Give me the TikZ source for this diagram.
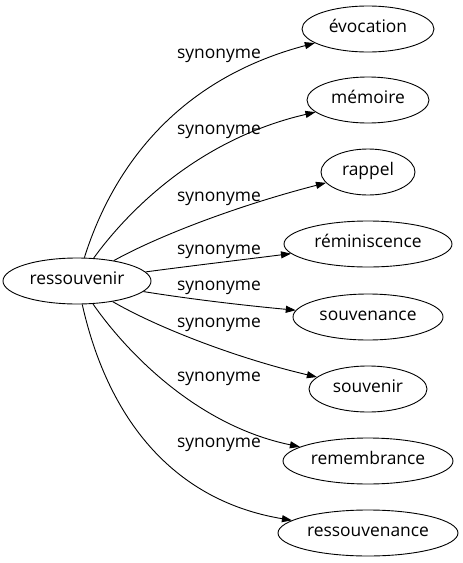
\documentclass[tikz,border=0pt]{standalone}
\usepackage{fontspec}
\setmainfont{Open Sans}
\usetikzlibrary{shapes.geometric,arrows.meta}
\begin{document}
\begin{tikzpicture}[x=1pt, y=-1pt, font=\fontsize{17.4}{20}\selectfont,
    word/.style={draw, ellipse, line width=0.9pt, minimum height=46pt,
      inner sep=0pt, text height=11pt, text depth=4pt},
    syn/.style={-{Triangle[length=10pt,width=7pt]}, line width=0.9pt},
    lbl/.style={inner sep=0pt, text height=11pt, text depth=4pt}]
      \useasboundingbox (0,0) rectangle (463,563);

      % Define the source word
      \node[word, minimum width=148pt] (src) at (77,281) {ressouvenir};

      % Define the target words
      \node[word, minimum width=132pt] (evocation) at (368,29) {évocation};
      \node[word, minimum width=122pt] (memoire) at (368,100) {mémoire};
      \node[word, minimum width=94pt] (rappel) at (368,172) {rappel};
      \node[word, minimum width=168pt] (reminiscence) at (368,244) {réminiscence};
      \node[word, minimum width=150pt] (souvenance) at (368,317) {souvenance};
      \node[word, minimum width=118pt] (souvenir) at (368,389) {souvenir};
      \node[word, minimum width=170pt] (remembrance) at (368,461) {remembrance};
      \node[word, minimum width=180pt] (ressouvenance) at (368,533) {ressouvenance};

      % Draw the arrows
      \draw[syn] (src) .. controls (112,170) and (175,80) .. (evocation);
      \draw[syn] (src) .. controls (125,215) and (195,140) .. (memoire);
      \draw[syn] (src) .. controls (160,235) and (240,205) .. (rappel);
      \draw[syn] (src) .. controls (190,266) and (240,260) .. (reminiscence);
      \draw[syn] (src) .. controls (190,299) and (240,305) .. (souvenance);
      \draw[syn] (src) .. controls (160,329) and (240,359) .. (souvenir);
      \draw[syn] (src) .. controls (125,350) and (195,425) .. (remembrance);
      \draw[syn] (src) .. controls (107,415) and (170,500) .. (ressouvenance);

      % Edge labels
      \foreach \y [count=\i] in {55,131,198,251,287,324,378,444} {
        \node[lbl] (lbl\i) at (219,\y) {synonyme};
      }
    \end{tikzpicture}
\end{document}
